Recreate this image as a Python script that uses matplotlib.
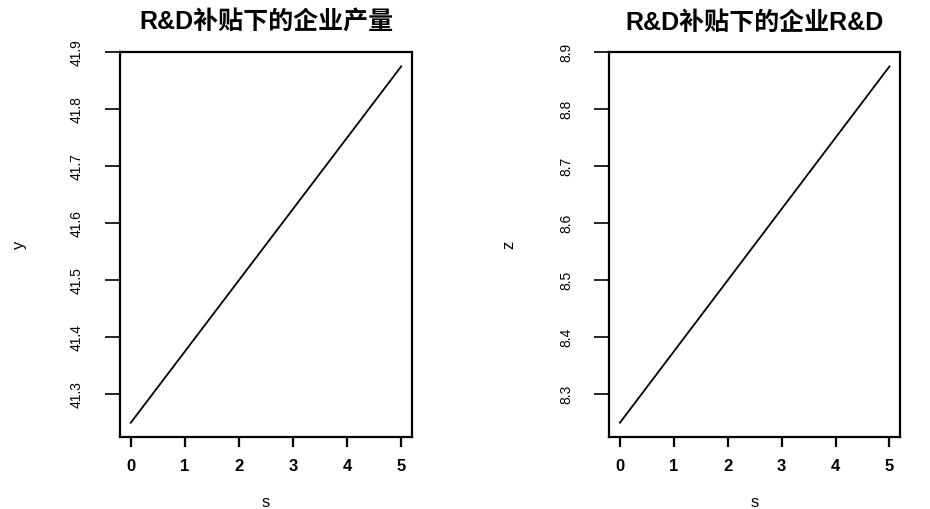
import matplotlib
matplotlib.use("Agg")
import matplotlib.pyplot as plt
from matplotlib.ticker import MultipleLocator, FormatStrFormatter

plt.rcParams['font.family'] = ['Liberation Sans', 'Noto Sans CJK SC', 'DejaVu Sans']

# values
s = [0, 1, 2, 3, 4, 5]
y = [41.25, 41.375, 41.5, 41.625, 41.75, 41.875]
z = [8.25, 8.375, 8.5, 8.625, 8.75, 8.875]

titles = ["R&D补贴下的企业产量", "R&D补贴下的企业R&D"]
ylabels = ["y", "z"]

fig = plt.figure(figsize=(9.30, 5.09), dpi=100)
ax1 = fig.add_axes([0.129, 0.1415, 0.314, 0.756])
ax2 = fig.add_axes([0.655, 0.1415, 0.313, 0.756])


def r_lim(vals):
    lo, hi = min(vals), max(vals)
    pad = 0.04 * (hi - lo)
    return lo - pad, hi + pad


for ax, vals, title, lab in zip([ax1, ax2], [y, z], titles, ylabels):
    ax.plot(s, vals, color="black", lw=1.3)
    ax.set_xlim(*r_lim(s))
    ax.set_ylim(*r_lim(vals))
    ax.xaxis.set_major_locator(MultipleLocator(1))
    ax.yaxis.set_major_locator(MultipleLocator(0.1))
    ax.yaxis.set_major_formatter(FormatStrFormatter('%.1f'))
    for side in ax.spines.values():
        side.set_linewidth(1.6)
    ax.tick_params(axis='x', length=7, width=1.6, pad=9, labelsize=12)
    ax.tick_params(axis='y', length=11, width=1.2, pad=15, labelsize=10,
                   labelrotation=90)
    for t in ax.get_yticklabels():
        t.set_va('center')
    for t in ax.get_xticklabels():
        t.set_fontweight('bold')
    ax.set_title(title, fontsize=18, fontweight='bold', pad=16,
                 family=['Liberation Sans', 'Noto Sans CJK SC'])
    ax.set_xlabel("s", fontsize=12)
    ax.set_ylabel(lab, fontsize=12, rotation=90)
    ax.xaxis.set_label_coords(0.5, -0.152)
    ax.yaxis.set_label_coords(-0.32, 0.5)

fig.savefig("out.png", dpi=100, facecolor="white")
